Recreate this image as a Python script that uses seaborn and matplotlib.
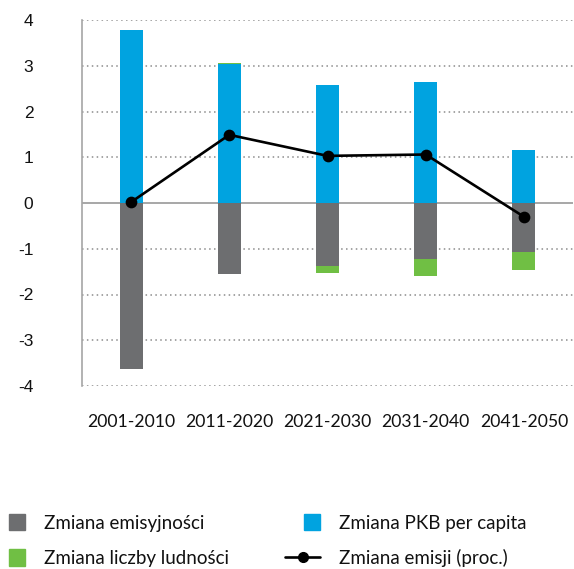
import numpy as np
import matplotlib
matplotlib.use("Agg")
import matplotlib.pyplot as plt
import matplotlib.patches as mpatches
from matplotlib.lines import Line2D
from matplotlib.legend_handler import HandlerPatch
import seaborn as sns

# Data
periods = ['2001-2010', '2011-2020', '2021-2030', '2031-2040', '2041-2050']
emisyjnosc = [-3.63, -1.55, -1.38, -1.23, -1.07]   # Zmiana emisyjności
ludnosc = [0.0, 0.03, -0.14, -0.36, -0.39]          # Zmiana liczby ludności
pkb = [3.79, 3.03, 2.58, 2.65, 1.16]                # Zmiana PKB per capita
emisje = [0.02, 1.49, 1.03, 1.06, -0.30]            # Zmiana emisji (proc.)

c_gray = '#6d6e70'
c_blue = '#00a3e0'
c_green = '#70bf44'

sns.set_style('white')
plt.rcParams['font.family'] = ['Lato', 'DejaVu Sans']

fig = plt.figure(figsize=(5.74, 5.69), dpi=100)
ax = fig.add_axes([82 / 574, 1 - 386 / 569, (573 - 82) / 574, (386 - 20) / 569])

# green sits on top of blue when positive, below gray when negative
lud = np.array(ludnosc)
green_bottom = np.where(lud < 0, np.array(emisyjnosc), np.array(pkb))

bw = 0.235
bar_kw = dict(saturation=1, width=bw, ax=ax, zorder=2, edgecolor='none', linewidth=0)
sns.barplot(x=periods, y=pkb, color=c_blue, **bar_kw)
sns.barplot(x=periods, y=emisyjnosc, color=c_gray, **bar_kw)
sns.barplot(x=periods, y=ludnosc, bottom=green_bottom, color=c_green, **bar_kw)
sns.pointplot(x=periods, y=emisje, color='black', marker='o', markersize=7,
              linewidth=1.9, errorbar=None, ax=ax, zorder=4)

ax.set_ylim(-4, 4)
ax.set_xlim(-0.5, 4.5)
ax.set_yticks(range(-4, 5))
ax.set_yticklabels([str(v) for v in range(-4, 5)], family=['Liberation Sans', 'DejaVu Sans'])
ax.set_xlabel('')
ax.set_ylabel('')

# dotted gridlines and solid zero line
for v in range(-4, 5):
    if v != 0:
        ax.axhline(v, color='#8c8c8c', lw=1.1, ls=(0, (1, 2.2)), zorder=0.5)
ax.axhline(0, color='#a0a0a0', lw=1.3, zorder=1)

for s in ['top', 'right', 'bottom']:
    ax.spines[s].set_visible(False)
ax.spines['left'].set_color('#a6a6a6')
ax.spines['left'].set_linewidth(1.2)

ax.tick_params(axis='y', length=0, pad=35, labelsize=12.5, labelcolor='#111111')
ax.tick_params(axis='x', length=0, pad=20, labelsize=12.7, labelcolor='#111111')


# square handle pushed to the right end of the handle box
def right_square(legend, orig_handle, xdescent, ydescent, width, height, fontsize):
    return mpatches.Rectangle((-xdescent + width - height, -ydescent), height, height)


handles = [
    mpatches.Patch(color=c_gray, label='Zmiana emisyjności'),
    mpatches.Patch(color=c_green, label='Zmiana liczby ludności'),
    mpatches.Patch(color=c_blue, label='Zmiana PKB per capita'),
    Line2D([], [], color='black', lw=1.9, marker='o', markersize=7,
           label='Zmiana emisji (proc.)'),
]
fig.legend(handles=handles, ncol=2, frameon=False, fontsize=13.5, labelcolor='#111111',
           loc='upper left', bbox_to_anchor=(-10 / 574, 1 - 514 / 569),
           handlelength=1.87, handleheight=0.96, handletextpad=1.0,
           columnspacing=3.0, labelspacing=0.95, borderpad=0, borderaxespad=0,
           handler_map={mpatches.Patch: HandlerPatch(patch_func=right_square)})

fig.savefig('out.png', dpi=100)
